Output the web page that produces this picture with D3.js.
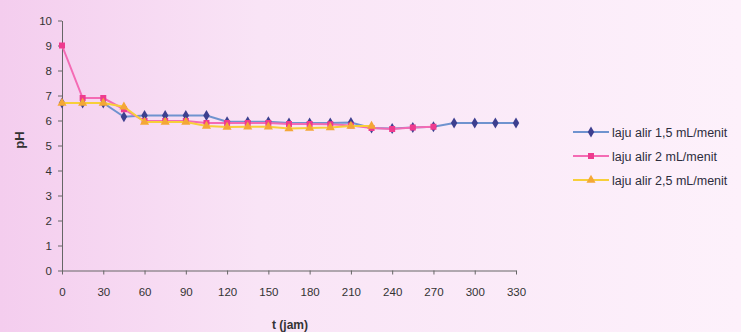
<!DOCTYPE html>
<html>
<head>
<meta charset="utf-8">
<script src="https://cdn.jsdelivr.net/npm/d3@7"></script>
<style>
  body { margin: 0; background: #fbeaf8; }
  svg { display: block; font-family: "Liberation Sans", Arial, sans-serif; }
  .axis path, .axis line { stroke: #666; }
  .axis text { fill: #333; font-size: 11.5px; }
</style>
</head>
<body>
<svg width="741" height="332"></svg>
<script>
// jam
var times = [0, 15, 30, 45, 60, 75, 90, 105, 120, 135, 150, 165, 180, 195, 210, 225, 240, 255, 270, 285, 300, 315, 330];
var ph15 = [6.7, 6.7, 6.7, 6.15, 6.2, 6.2, 6.2, 6.2, 5.95, 5.95, 5.95, 5.9, 5.9, 5.9, 5.92, 5.7, 5.68, 5.72, 5.75, 5.9, 5.9, 5.9, 5.9];
var ph20 = [9.0, 6.9, 6.9, 6.45, 5.98, 5.98, 5.98, 5.9, 5.9, 5.9, 5.9, 5.86, 5.86, 5.85, 5.8, 5.7, 5.66, 5.72, 5.75];
var ph25 = [6.7, 6.7, 6.7, 6.55, 5.94, 5.94, 5.94, 5.78, 5.74, 5.75, 5.75, 5.68, 5.7, 5.72, 5.78, 5.78];
var xTicks = [0, 30, 60, 90, 120, 150, 180, 210, 240, 270, 300, 330];
var yTicks = [0, 1, 2, 3, 4, 5, 6, 7, 8, 9, 10];
var seriesNames = ["laju alir 1,5 mL/menit", "laju alir 2 mL/menit", "laju alir 2,5 mL/menit"];

var svg = d3.select("svg");

// scanned paper tint
var grad = svg.append("defs").append("linearGradient").attr("id", "bg");
grad.append("stop").attr("offset", "0").attr("stop-color", "#f4cdee");
grad.append("stop").attr("offset", "0.35").attr("stop-color", "#f9e4f6");
grad.append("stop").attr("offset", "1").attr("stop-color", "#fdf1fb");
svg.append("rect").attr("width", 741).attr("height", 332).attr("fill", "url(#bg)");

var x = d3.scaleLinear().domain([0, 330]).range([62, 516]);
var y = d3.scaleLinear().domain([0, 10]).range([270.5, 20.5]);

svg.append("g").attr("class", "axis")
  .attr("transform", "translate(0," + y(0) + ")")
  .call(d3.axisBottom(x).tickValues(xTicks).tickSize(4).tickSizeOuter(0).tickPadding(13));

svg.append("g").attr("class", "axis")
  .attr("transform", "translate(" + x(0) + ",0)")
  .call(d3.axisLeft(y).tickValues(yTicks).tickSize(4).tickSizeOuter(0).tickPadding(6));

svg.append("text").attr("x", 290).attr("y", 329).attr("text-anchor", "middle")
  .attr("font-size", 12).attr("font-weight", "bold").attr("fill", "#333").text("t (jam)");
svg.append("text").attr("transform", "translate(24,140) rotate(-90)").attr("text-anchor", "middle")
  .attr("font-size", 13).attr("font-weight", "bold").attr("fill", "#333").text("pH");

var series = [
  { name: seriesNames[0], values: ph15, line: "#6f93cf", mark: "#3d3f8f", shape: d3.symbolDiamond },
  { name: seriesNames[1], values: ph20, line: "#f46bb4", mark: "#ee3b8f", shape: d3.symbolSquare },
  { name: seriesNames[2], values: ph25, line: "#f7cf3a", mark: "#f4a736", shape: d3.symbolTriangle }
];

var line = d3.line().x(function(d) { return x(d[0]); }).y(function(d) { return y(d[1]); });

series.forEach(function(s) {
  var pts = s.values.map(function(v, i) { return [times[i], v]; });
  svg.append("path").datum(pts).attr("d", line)
    .attr("fill", "none").attr("stroke", s.line).attr("stroke-width", 2);
  svg.selectAll(null).data(pts).enter().append("path")
    .attr("d", d3.symbol().type(s.shape).size(36))
    .attr("transform", function(d) { return "translate(" + x(d[0]) + "," + y(d[1]) + ")"; })
    .attr("fill", s.mark);
});

var legend = svg.append("g");
series.forEach(function(s, i) {
  var ly = 132 + i * 24;
  legend.append("line").attr("x1", 573).attr("x2", 609).attr("y1", ly).attr("y2", ly)
    .attr("stroke", s.line).attr("stroke-width", 2);
  legend.append("path").attr("d", d3.symbol().type(s.shape).size(36))
    .attr("transform", "translate(591," + ly + ")").attr("fill", s.mark);
  legend.append("text").attr("x", 612).attr("y", ly + 4.5).attr("font-size", 12.5)
    .attr("fill", "#2d2d3d").text(s.name);
});
</script>
</body>
</html>
